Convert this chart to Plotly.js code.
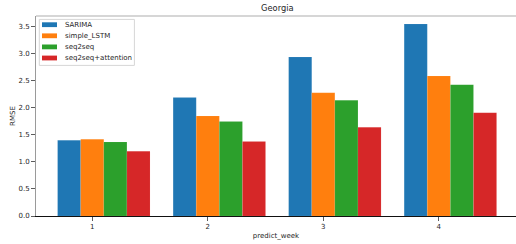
<!DOCTYPE html>
<html>
<head>
<meta charset="utf-8">
<script src="https://cdn.plot.ly/plotly-3.0.1.min.js"></script>
<style>html,body{margin:0;padding:0;background:#fff;}#chart{width:516px;height:244px;}</style>
</head>
<body>
<div id="chart"></div>
<script>
const weeks = [1, 2, 3, 4];
const seriesNames = ["SARIMA", "simple_LSTM", "seq2seq", "seq2seq+attention"];
const sarima = [1.40, 2.19, 2.94, 3.55];
const simpleLSTM = [1.42, 1.85, 2.28, 2.59];
const seq2seq = [1.37, 1.75, 2.14, 2.43];
const seq2seqAttention = [1.20, 1.38, 1.64, 1.91];
const colors = ["#1f77b4", "#ff7f0e", "#2ca02c", "#d62728"];

const allSeries = [sarima, simpleLSTM, seq2seq, seq2seqAttention];
const barW = 0.2;
const FONT = "DejaVu Sans, sans-serif";
const TXT = "#262626";

const traces = allSeries.map((vals, i) => ({
  type: "bar",
  name: seriesNames[i],
  x: weeks,
  y: vals,
  width: barW,
  offset: -0.3 + barW * i,
  marker: {color: colors[i], line: {color: "rgba(255,255,255,0.25)", width: 0.3}},
  showlegend: false,
  hoverinfo: "skip"
}));

// custom legend (matplotlib-like compact layout)
const shapes = [
  {type: "rect", xref: "paper", yref: "paper", x0: 0.0069, x1: 0.205, y0: 0.753, y1: 0.983,
   line: {color: "#d6d6d6", width: 1}, fillcolor: "rgba(255,255,255,0.85)", layer: "above"},
  {type: "line", xref: "paper", yref: "paper", x0: 0, x1: 1, y0: 1, y1: 1,
   line: {color: "#c8c8c8", width: 1.5}}
];
const annotations = [];
const legTop = 24.7, legStep = 11.1, plotTop = 16, plotH = 200, plotL = 36, plotW = 480;
seriesNames.forEach((nm, i) => {
  const yc = legTop + legStep * i;
  const yp = 1 - (yc - plotTop) / plotH;
  shapes.push({type: "rect", xref: "paper", yref: "paper",
    x0: (42 - plotL) / plotW, x1: (57 - plotL) / plotW,
    y0: yp - 2.4 / plotH, y1: yp + 2.4 / plotH,
    line: {width: 0}, fillcolor: colors[i], layer: "above"});
  annotations.push({xref: "paper", yref: "paper", x: (63 - plotL) / plotW, y: yp,
    xanchor: "left", yanchor: "middle", showarrow: false, text: nm,
    font: {family: FONT, size: 7, color: TXT}});
});

const layout = {
  width: 516, height: 244,
  margin: {l: 36, r: 0, t: 16, b: 28, pad: 0},
  paper_bgcolor: "#fff", plot_bgcolor: "#fff",
  barmode: "overlay",
  title: {text: "Georgia", font: {family: FONT, size: 8.3, color: TXT},
          x: 0.5375, xref: "container", y: 0.965, yanchor: "middle"},
  xaxis: {
    range: [0.513, 4.668], tickvals: weeks, ticktext: weeks.map(String),
    showline: true, linecolor: "#111", linewidth: 1.2,
    ticks: "outside", ticklen: 3.5, tickwidth: 0.8, tickcolor: "#333",
    showgrid: false, zeroline: false,
    tickfont: {family: FONT, size: 7, color: TXT},
    title: {text: "predict_week", font: {family: FONT, size: 7, color: TXT}, standoff: 3}
  },
  yaxis: {
    range: [0, 3.70], tickvals: [0, 0.5, 1, 1.5, 2, 2.5, 3, 3.5],
    ticktext: ["0.0", "0.5", "1.0", "1.5", "2.0", "2.5", "3.0", "3.5"],
    showline: true, linecolor: "#9a9a9a", linewidth: 1.5,
    ticks: "outside", ticklen: 3.5, tickwidth: 0.8, tickcolor: "#333",
    showgrid: false, zeroline: false,
    tickfont: {family: FONT, size: 7, color: TXT},
    title: {text: "RMSE", font: {family: FONT, size: 7, color: TXT}, standoff: 2}
  },
  shapes: shapes,
  annotations: annotations,
  showlegend: false
};

Plotly.newPlot("chart", traces, layout, {staticPlot: true, displayModeBar: false});
</script>
</body>
</html>
